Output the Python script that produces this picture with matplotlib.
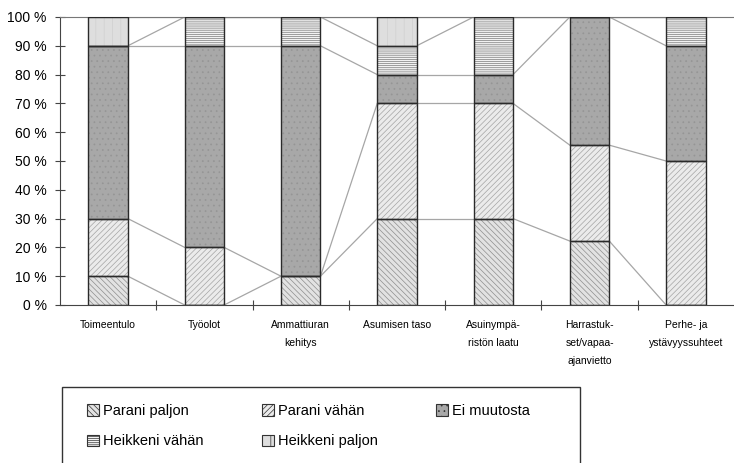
import matplotlib.pyplot as plt
import matplotlib.patches as mpatches
import numpy as np

plt.rcParams['font.family'] = ['Liberation Sans', 'DejaVu Sans']
plt.rcParams['hatch.linewidth'] = 0.5

categories = ["Toimeentulo", "Työolot", "Ammattiuran\nkehitys", "Asumisen taso",
              "Asuinympä-\nristön laatu", "Harrastuk-\nset/vapaa-\najanvietto",
              "Perhe- ja\nystävyyssuhteet"]

parani_paljon = [10, 0, 10, 30, 30, 22.2, 0]
parani_vahan = [20, 20, 0, 40, 40, 33.3, 50]
ei_muutosta = [60, 70, 80, 10, 10, 44.5, 40]
heikkeni_vahan = [0, 10, 10, 10, 20, 0, 10]
heikkeni_paljon = [10, 0, 0, 10, 0, 0, 0]

series = [parani_paljon, parani_vahan, ei_muutosta, heikkeni_vahan, heikkeni_paljon]
names = ["Parani paljon", "Parani vähän", "Ei muutosta", "Heikkeni vähän", "Heikkeni paljon"]
fills = ["#e2e2e2", "#ebebeb", "#a8a8a8", "#f2f2f2", "#dedede"]
hatches = ["\\\\\\\\\\\\", "//////", "...", "--------", "||"]
hatch_cols = ["#8e8e8e", "#a4a4a4", "#959595", "#7a7a7a", "#cfcfcf"]

fig = plt.figure(figsize=(7.34, 4.63), dpi=100)
ax = fig.add_axes([60 / 734, 1 - 305 / 463, 1 - 60 / 734, (305 - 17) / 463])

x = np.arange(len(categories))
w = 0.41
bottom = np.zeros(len(categories))
tops = []
for vals, fc, h, hc in zip(series, fills, hatches, hatch_cols):
    vals = np.array(vals)
    ax.bar(x, vals, w, bottom=bottom, color=fc, hatch=h, edgecolor=hc, linewidth=0, zorder=2)
    ax.bar(x, vals, w, bottom=bottom, fill=False, edgecolor="#2a2a2a", linewidth=1.0, zorder=3)
    bottom = bottom + vals
    tops.append(bottom.copy())

# series lines between bars
for t in tops:
    for i in range(len(categories) - 1):
        ax.plot([x[i] + w / 2, x[i + 1] - w / 2], [t[i], t[i + 1]],
                color="#a6a6a6", linewidth=0.9, zorder=1)

ax.set_xlim(-0.5, len(categories) - 0.5)
ax.set_ylim(0, 100)
ax.set_yticks(np.arange(0, 101, 10))
ax.set_yticklabels([f"{v} %" for v in range(0, 101, 10)], fontsize=10)
ax.set_xticks(np.arange(0.5, len(categories) - 0.5, 1))
ax.set_xticklabels([])
ax.set_xticks(x, minor=True)
ax.set_xticklabels(categories, minor=True, fontsize=7.5, linespacing=2.0, va="top")
ax.tick_params(axis="x", which="minor", length=0, pad=11)
ax.tick_params(axis="x", which="major", direction="inout", length=7, color="#444")
ax.tick_params(axis="y", direction="inout", length=7, color="#444", pad=6)

for s in ["left", "bottom"]:
    ax.spines[s].set_color("#444")
ax.spines["top"].set_color("#777")
ax.spines["right"].set_visible(False)

# legend box (runs past the bottom edge, as in the scan)
box = mpatches.Rectangle((62 / 734, -0.05), (580 - 62) / 734, 0.05 + 1 - 387 / 463,
                         transform=fig.transFigure, fill=False, edgecolor="#333", linewidth=1.0)
fig.patches.append(box)

handles = []
order = [0, 3, 1, 4, 2]
for k in order:
    handles.append(mpatches.Patch(facecolor=fills[k], hatch=hatches[k], edgecolor="#333",
                                  linewidth=0.8, label=names[k]))
leg = fig.legend(handles=handles, ncol=3, loc="upper left",
                 bbox_to_anchor=(87 / 734, 1 - 404 / 463), fontsize=10.5,
                 frameon=False, handlelength=0.8, handleheight=0.8, handletextpad=0.3,
                 columnspacing=4.0, labelspacing=1.12, borderpad=0, borderaxespad=0)

fig.savefig("out.png", dpi=100)
